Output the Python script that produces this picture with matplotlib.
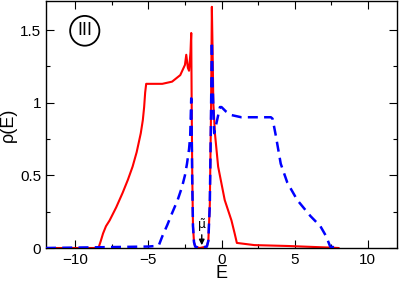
import matplotlib
matplotlib.use("Agg")
import matplotlib.pyplot as plt
from matplotlib.patches import Ellipse
from matplotlib.ticker import MultipleLocator

plt.rcParams['font.family'] = ['Liberation Sans', 'DejaVu Sans']

# Red solid curve
E_red = [-12, -8.5, -8.38, -8.25, -8.1, -7.9, -7.65, -7.2, -6.76, -6.4, -6.08, -5.8, -5.52,
         -5.38, -5.29, -5.22, -5.15, -4.6, -4.05, -3.38,
         -2.82, -2.5, -2.41, -2.3, -2.22, -2.12, -2.07, -2.04, -2.0, -1.95, -1.88, -1.8,
         -1.5, -1.0, -0.9, -0.8, -0.72, -0.66, -0.6, -0.56, -0.45, -0.23, 0.22, 0.68,
         0.9, 1.05, 2.25, 4.5, 7.4, 8.0]
rho_red = [0, 0, 0.01, 0.05, 0.10, 0.15, 0.19, 0.28, 0.38, 0.47, 0.56, 0.66, 0.79,
           0.88, 0.97, 1.07, 1.13, 1.13, 1.13, 1.145,
           1.19, 1.26, 1.33, 1.24, 1.22, 1.35, 1.48, 1.0, 0.5, 0.15, 0.04, 0.01,
           0.0, 0.01, 0.05, 0.3, 0.9, 1.66, 1.3, 1.0, 0.79, 0.56, 0.33, 0.19,
           0.10, 0.035, 0.02, 0.014, 0.003, 0.0]

# Blue dashed curve
E_blue = [-12, -5.0, -4.4, -4.28, -4.05, -3.7, -3.38, -3.0, -2.7, -2.5, -2.36, -2.22, -2.14,
          -2.07, -2.04, -2.0,
          -1.95, -1.88, -1.8, -1.5, -1.0, -0.9, -0.8, -0.72, -0.66, -0.6, -0.5, -0.3,
          -0.11, 0.0, 0.3, 0.68, 1.35, 3.38, 3.49, 3.72, 4.05, 4.5, 5.18, 6.08, 6.76,
          7.16, 7.43, 8.0]
rho_blue = [0, 0.01, 0.015, 0.02, 0.08, 0.16, 0.24, 0.33, 0.42, 0.50, 0.58, 0.68, 0.77,
            1.03, 0.8, 0.45,
            0.15, 0.04, 0.01, 0.0, 0.01, 0.05, 0.3, 0.9, 1.42, 1.1, 0.79, 0.88,
            0.97, 0.97, 0.94, 0.915, 0.90, 0.90, 0.89, 0.77, 0.58, 0.45, 0.33, 0.22, 0.15,
            0.08, 0.01, 0.0]

mu_E = -1.35

fig = plt.figure(figsize=(3.99, 2.81), dpi=100)
ax = fig.add_axes([0.1153, 0.1174, 0.8797, 0.879])

ax.plot(E_red, rho_red, color='#ff0000', lw=1.5, zorder=2)
ax.plot(E_blue, rho_blue, color='#0000ff', lw=1.8, ls=(0, (4, 2.5)), zorder=3)

ax.set_xlim(-12, 12)
ax.set_ylim(0, 1.7)
ax.xaxis.set_major_locator(MultipleLocator(5))
ax.xaxis.set_minor_locator(MultipleLocator(2.5))
ax.yaxis.set_major_locator(MultipleLocator(0.5))
ax.yaxis.set_minor_locator(MultipleLocator(0.25))
ax.set_yticks([0, 0.5, 1, 1.5])
ax.set_yticklabels(['0', '0.5', '1', '1.5'])
ax.tick_params(which='both', direction='in', top=True, right=True, labelsize=11)
ax.tick_params(which='major', length=6, width=0.8)
ax.tick_params(which='minor', length=3, width=0.8)
for s in ax.spines.values():
    s.set_linewidth(1.0)

ax.set_xlabel('E', fontsize=13, labelpad=-1)
ax.set_ylabel('ρ(E)', fontsize=13, labelpad=2)

# mu arrow
ax.annotate('', xy=(mu_E, 0.0), xytext=(mu_E, 0.11),
            arrowprops=dict(arrowstyle='-|>', color='black', lw=1.0, mutation_scale=8))
ax.text(mu_E, 0.12, 'μ̃', ha='center', va='bottom', fontsize=9,
        family=['DejaVu Sans'])

# circled roman numeral
ax.text(-9.35, 1.495, 'III', ha='center', va='center', fontsize=13)
ax.add_patch(Ellipse((-9.35, 1.495), width=2.0, height=0.205, fill=False,
                     lw=1.3, color='black', transform=ax.transData))

fig.savefig('out.png', dpi=100)
